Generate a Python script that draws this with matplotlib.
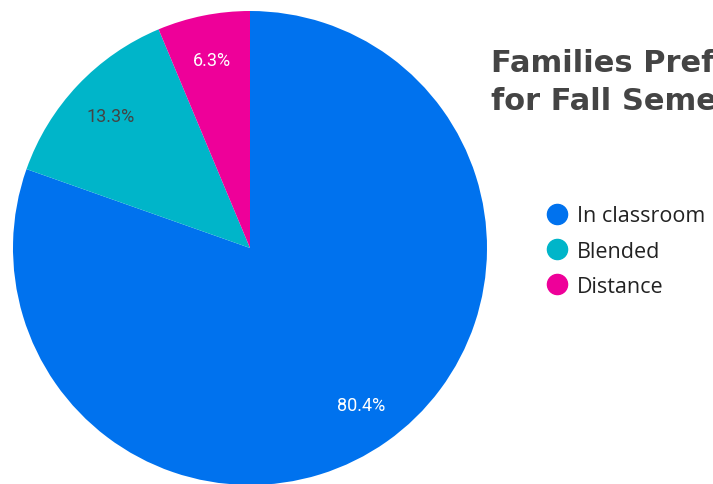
import matplotlib
matplotlib.use("Agg")
import matplotlib.pyplot as plt
from matplotlib.lines import Line2D

categories = ["In classroom", "Blended", "Distance"]
values = [80.4, 13.3, 6.3]
colors = ["#0072EE", "#00B5C9", "#EE0099"]
label_colors = ["white", "#444444", "white"]
title_lines = "Families Preferences\nfor Fall Semester"

W, H = 713, 485
fig = plt.figure(figsize=(W / 100, H / 100), dpi=100)
cx, cy, r = 250, 249, 237
ax = fig.add_axes([(cx - r) / W, (H - cy - r) / H, 2 * r / W, 2 * r / H])
wedges, texts, autotexts = ax.pie(
    values, colors=colors, startangle=90, counterclock=False,
    autopct="%.1f%%", pctdistance=0.81, radius=1,
    textprops=dict(fontsize=13, family="Roboto"))
for t, c in zip(autotexts, label_colors):
    t.set_color(c)
ax.set_xlim(-1, 1)
ax.set_ylim(-1, 1)
ax.set_aspect("equal")
ax.axis("off")

fig.text(491 / W, 1 - 49 / H, title_lines, ha="left", va="top",
         fontsize=22, fontweight="bold", color="#444444",
         family="DejaVu Sans", linespacing=1.4)

handles = [Line2D([], [], marker="o", linestyle="", markersize=14.5,
                  markerfacecolor=c, markeredgecolor=c) for c in colors]
fig.legend(handles, categories, loc="upper left",
           bbox_to_anchor=(527 / W, 1 - 187 / H), frameon=False,
           prop=dict(family="Open Sans", size=15.5), handletextpad=0.4,
           labelspacing=0.66, handlelength=1.0, borderpad=0.4,
           labelcolor="#222222")

fig.savefig("out.png", dpi=100)
